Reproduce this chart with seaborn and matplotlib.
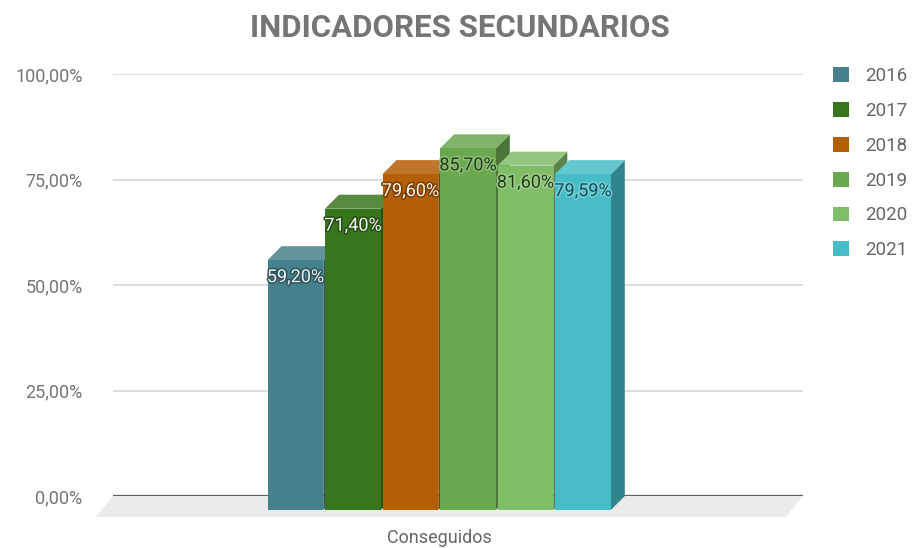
import matplotlib
matplotlib.use("Agg")
import matplotlib.pyplot as plt
import matplotlib.transforms as mtransforms
import matplotlib.patheffects as pe
from matplotlib.patches import Polygon, Patch
from matplotlib.colors import to_rgb
import pandas as pd
import seaborn as sns

# data
categories = ["Conseguidos"]
years = ["2016", "2017", "2018", "2019", "2020", "2021"]
values = [59.20, 71.40, 79.60, 85.70, 81.60, 79.59]

# style
bar_colors = ["#46808c", "#38761d", "#b45f06", "#6aa84f", "#80bd68", "#46bdc6"]
text_colors = ["#eef5f6", "#f2f7ef", "#fdf3e8", "#1e3d12", "#1e3d12", "#114c57"]
GRAY = "#757575"
DEPTH_PX = 14


def shade(c, f):
    r, g, b = to_rgb(c)
    if f >= 0:
        return (r + (1 - r) * f, g + (1 - g) * f, b + (1 - b) * f)
    return (r * (1 + f), g * (1 + f), b * (1 + f))


def fmt(v):
    return f"{v:.2f}".replace(".", ",") + "%"


def main():
    sns.set_style("white")
    plt.rcParams["font.family"] = ["Roboto", "DejaVu Sans"]

    W, H = 914, 548
    fig = plt.figure(figsize=(W / 100, H / 100), dpi=100)
    ax = fig.add_axes([113 / W, (H - 496) / H, 690 / W, 422 / H])

    df = pd.DataFrame({"cat": categories * len(years), "year": years, "value": values})
    sns.barplot(data=df, x="cat", y="value", hue="year", palette=bar_colors,
                saturation=1, width=0.5, gap=0.03, legend=False, ax=ax)
    bars = sorted(ax.patches, key=lambda p: p.get_x())

    ax.set_xlim(-0.493, 0.507)
    ax.set_ylim(0, 100)
    xl, xr = ax.get_xlim()
    px_x = 690 / (xr - xl)
    px_y = 422 / 100
    dx = DEPTH_PX / px_x
    dy = DEPTH_PX / px_y

    # floor and grid
    fdx, fdy = 17 / px_x, 21 / px_y
    ax.add_patch(Polygon([(xl, 0), (xr, 0), (xr - fdx, -fdy), (xl - fdx, -fdy)],
                         closed=True, color="#ebebeb", lw=0, zorder=0.2, clip_on=False))
    for yv in [25, 50, 75, 100]:
        ax.axhline(yv, color="#dadada", lw=1.3, zorder=0.3)
    ax.axhline(0, color="#5f5f5f", lw=1.6, zorder=0.4)

    for i, p in enumerate(bars):
        x, w, h = p.get_x(), p.get_width(), p.get_height()
        col = bar_colors[i]
        z = 2 + 3 * i
        side = Polygon([(x + w - dx, h - dy), (x + w, h), (x + w, 0), (x + w - dx, -dy)],
                       closed=True, color=shade(col, -0.3), lw=0, zorder=z, clip_on=False)
        top = Polygon([(x - dx, h - dy), (x + w - dx, h - dy), (x + w, h), (x, h)],
                      closed=True, color=shade(col, 0.15), lw=0, zorder=z + 1, clip_on=False)
        ax.add_patch(side)
        ax.add_patch(top)
        p.set_x(x - dx)
        p.set_y(-dy)
        p.set_zorder(z + 2)
        p.set_clip_on(False)
        p.set_edgecolor("none")

        light_text = i < 3
        halo = shade(col, -0.35) if light_text else shade(col, 0.25)
        ax.text(x - dx + w / 2, h - dy - 17 / px_y, fmt(values[i]),
                ha="center", va="center", fontsize=13, color=text_colors[i],
                zorder=50,
                path_effects=[pe.withStroke(linewidth=2.2, foreground=halo)])

    # axes styling
    for s in ax.spines.values():
        s.set_visible(False)
    ax.set_yticks([0, 25, 50, 75, 100])
    ax.set_yticklabels([fmt(v) for v in [0, 25, 50, 75, 100]])
    ax.tick_params(axis="y", length=0, pad=22, labelsize=13, labelcolor=GRAY)
    ax.tick_params(axis="x", length=0, pad=24, labelsize=13, labelcolor="#666666")
    off = mtransforms.ScaledTranslation(-DEPTH_PX / 100, 0, fig.dpi_scale_trans)
    for lbl in ax.get_xticklabels():
        lbl.set_transform(lbl.get_transform() + off)
    ax.set_xlabel("")
    ax.set_ylabel("")

    fig.text(0.503, 1 - 28 / H, "INDICADORES SECUNDARIOS", ha="center", va="center",
             fontsize=22.5, fontweight="bold", color=GRAY)

    handles = [Patch(facecolor=c, edgecolor="none") for c in bar_colors]
    fig.legend(handles, years, loc="upper left", bbox_to_anchor=(833 / W, 1 - 67 / H),
               frameon=False, fontsize=13.5, labelcolor="#666666",
               handlelength=0.85, handleheight=0.85, handletextpad=0.85,
               labelspacing=0.9, borderpad=0, borderaxespad=0)

    fig.savefig("out.png", dpi=100)


if __name__ == "__main__":
    main()
